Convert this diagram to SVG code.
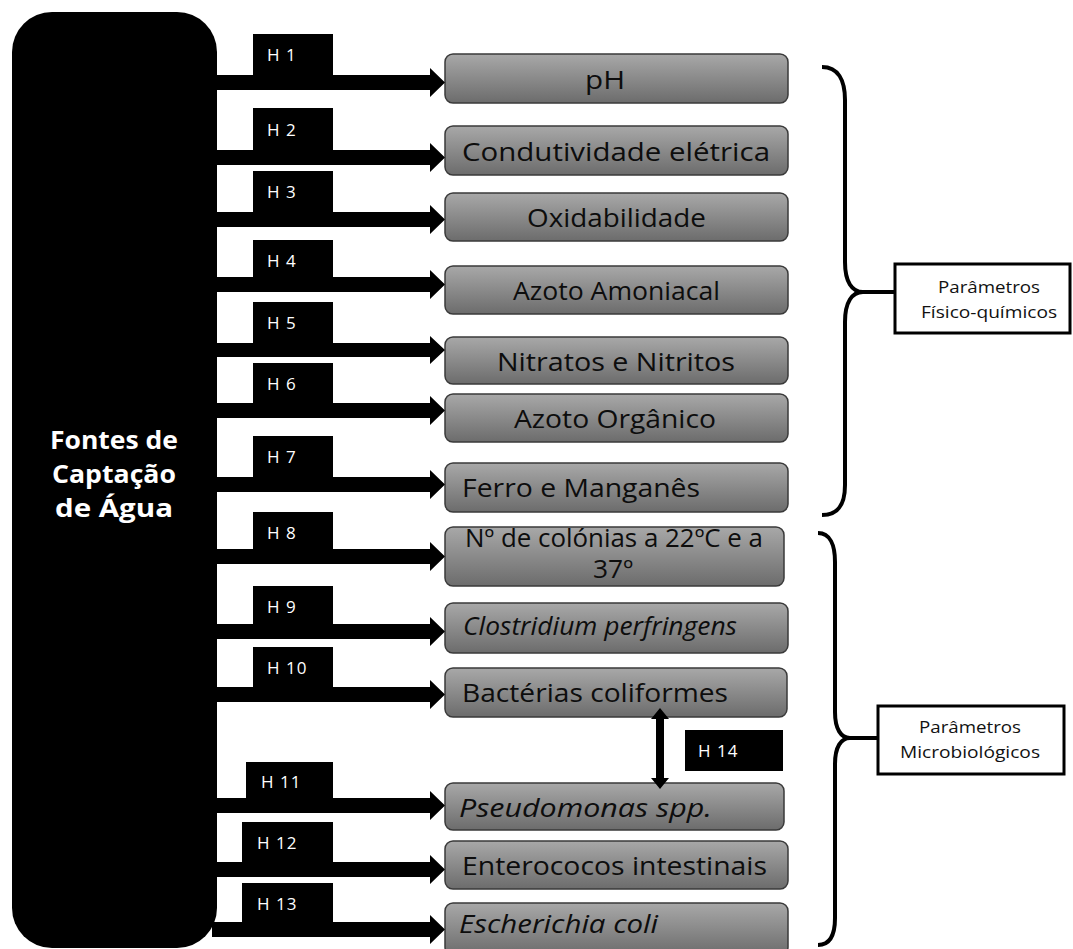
<svg xmlns="http://www.w3.org/2000/svg" width="1073" height="949" viewBox="0 0 1073 949">
<defs>
<linearGradient id="g" x1="0" y1="0" x2="0" y2="1">
<stop offset="0" stop-color="#a8a8a8"/>
<stop offset="1" stop-color="#6c6c6c"/>
</linearGradient>
</defs>
<style>
.node{fill:url(#g);stroke:#3a3a3a;stroke-width:1.5}
.nt{font-family:"Open Sans","Liberation Sans",sans-serif;font-size:25px;fill:#0d0d0d}
.it{font-style:italic}
.lab{fill:#000}
.lt{font-family:"Open Sans","Liberation Sans",sans-serif;font-size:17px;letter-spacing:1px;fill:#fff}
.arr{fill:#000}
.brace{fill:none;stroke:#000;stroke-width:4}
.pbox{fill:#fff;stroke:#000;stroke-width:3}
.pt{font-family:"Open Sans","Liberation Sans",sans-serif;font-size:16px;fill:#111;text-anchor:middle}
.src{font-family:"Open Sans","Liberation Sans",sans-serif;font-size:25px;font-weight:bold;fill:#fff;text-anchor:middle}
</style>
<rect width="1073" height="949" fill="#fff"/>

<g id="source">
<rect x="12" y="12" width="205" height="936" rx="40" fill="#000"/>
<text class="src" x="114" y="449" textLength="128" lengthAdjust="spacingAndGlyphs">Fontes de</text>
<text class="src" x="114" y="483" textLength="124" lengthAdjust="spacingAndGlyphs">Captação</text>
<text class="src" x="114" y="517" textLength="118" lengthAdjust="spacingAndGlyphs">de Água</text>
</g>

<g id="n1"><rect class="node" x="445" y="54" width="343" height="49" rx="8"/><text class="nt" x="605" y="89" text-anchor="middle" textLength="40" lengthAdjust="spacingAndGlyphs">pH</text></g>
<g id="n2"><rect class="node" x="445" y="126" width="343" height="49" rx="8"/><text class="nt" x="462" y="161" textLength="308" lengthAdjust="spacingAndGlyphs">Condutividade elétrica</text></g>
<g id="n3"><rect class="node" x="445" y="193" width="343" height="48" rx="8"/><text class="nt" x="527" y="227" textLength="179" lengthAdjust="spacingAndGlyphs">Oxidabilidade</text></g>
<g id="n4"><rect class="node" x="445" y="266" width="343" height="48" rx="8"/><text class="nt" x="513" y="300" textLength="207" lengthAdjust="spacingAndGlyphs">Azoto Amoniacal</text></g>
<g id="n5"><rect class="node" x="445" y="337" width="343" height="47" rx="8"/><text class="nt" x="497" y="371" textLength="238" lengthAdjust="spacingAndGlyphs">Nitratos e Nitritos</text></g>
<g id="n6"><rect class="node" x="445" y="394" width="343" height="48" rx="8"/><text class="nt" x="514" y="428" textLength="202" lengthAdjust="spacingAndGlyphs">Azoto Orgânico</text></g>
<g id="n7"><rect class="node" x="445" y="463" width="343" height="49" rx="8"/><text class="nt" x="462" y="497" textLength="238" lengthAdjust="spacingAndGlyphs">Ferro e Manganês</text></g>
<g id="n8"><rect class="node" x="445" y="527" width="339" height="59" rx="8"/><text class="nt" x="465" y="547" textLength="298" lengthAdjust="spacingAndGlyphs">Nº de colónias a 22ºC e a</text><text class="nt" x="593" y="578" textLength="40" lengthAdjust="spacingAndGlyphs">37º</text></g>
<g id="n9"><rect class="node" x="445" y="603" width="343" height="50" rx="8"/><text class="nt it" x="463" y="635" textLength="274" lengthAdjust="spacingAndGlyphs">Clostridium perfringens</text></g>
<g id="n10"><rect class="node" x="445" y="668" width="342" height="49" rx="8"/><text class="nt" x="462" y="702" textLength="266" lengthAdjust="spacingAndGlyphs">Bactérias coliformes</text></g>
<g id="n11"><rect class="node" x="445" y="783" width="339" height="47" rx="8"/><text class="nt it" x="459" y="817" textLength="253" lengthAdjust="spacingAndGlyphs">Pseudomonas spp.</text></g>
<g id="n12"><rect class="node" x="445" y="841" width="343" height="48" rx="8"/><text class="nt" x="462" y="875" textLength="305" lengthAdjust="spacingAndGlyphs">Enterococos intestinais</text></g>
<g id="n13"><rect class="node" x="445" y="903" width="343" height="52" rx="8"/><text class="nt it" x="459" y="933" textLength="199" lengthAdjust="spacingAndGlyphs">Escherichia coli</text></g>

<g id="connectors">
<path class="arr" d="M212,75H430V68L445,82.5L430,97V90H212Z"/>
<path class="arr" d="M212,150H430V143L445,157.5L430,172V165H212Z"/>
<path class="arr" d="M212,212H430V205L445,219.5L430,234V227H212Z"/>
<path class="arr" d="M212,277H430V270L445,284.5L430,299V292H212Z"/>
<path class="arr" d="M212,343H430V336L445,350L430,364V357H212Z"/>
<path class="arr" d="M212,403H430V396L445,410.5L430,425V418H212Z"/>
<path class="arr" d="M212,477H430V470L445,484.5L430,499V492H212Z"/>
<path class="arr" d="M212,549H430V542L445,556.5L430,571V564H212Z"/>
<path class="arr" d="M212,624H430V617L445,631.5L430,646V639H212Z"/>
<path class="arr" d="M212,687H430V680L445,694.5L430,709V702H212Z"/>
<path class="arr" d="M212,798H430V791L445,805.5L430,820V813H212Z"/>
<path class="arr" d="M212,862H430V855L445,869.5L430,884V877H212Z"/>
<path class="arr" d="M212,922H430V915L445,929.5L430,944V937H212Z"/>
<path class="arr" d="M660,708L669,719H664V778H669L660,789L651,778H656V719H651Z"/>
<g id="labels">
<rect class="lab" x="253" y="34" width="80" height="42"/><text class="lt" x="267" y="61">H 1</text>
<rect class="lab" x="253" y="108" width="80" height="43"/><text class="lt" x="267" y="136">H 2</text>
<rect class="lab" x="253" y="171" width="80" height="42"/><text class="lt" x="267" y="198">H 3</text>
<rect class="lab" x="253" y="240" width="80" height="38"/><text class="lt" x="267" y="267">H 4</text>
<rect class="lab" x="253" y="302" width="80" height="42"/><text class="lt" x="267" y="329">H 5</text>
<rect class="lab" x="253" y="363" width="80" height="41"/><text class="lt" x="267" y="390">H 6</text>
<rect class="lab" x="253" y="436" width="80" height="42"/><text class="lt" x="267" y="463">H 7</text>
<rect class="lab" x="253" y="512" width="80" height="38"/><text class="lt" x="267" y="539">H 8</text>
<rect class="lab" x="253" y="586" width="80" height="39"/><text class="lt" x="267" y="613">H 9</text>
<rect class="lab" x="253" y="647" width="80" height="41"/><text class="lt" x="267" y="674">H 10</text>
<rect class="lab" x="246" y="762" width="87" height="37"/><text class="lt" x="261" y="788">H 11</text>
<rect class="lab" x="242" y="822" width="91" height="41"/><text class="lt" x="257" y="849">H 12</text>
<rect class="lab" x="242" y="883" width="91" height="40"/><text class="lt" x="257" y="910">H 13</text>
<rect class="lab" x="685" y="730" width="98" height="41"/><text class="lt" x="698" y="757">H 14</text>
</g>
</g>

<g id="group-fq">
<path class="brace" d="M822,67C838,67 845,80 845,100L845,262C845,282 852,292 863,292C852,292 845,302 845,322L845,485C845,505 838,515 822,515"/>
<path class="brace" d="M863,292H895"/>
<rect class="pbox" x="895" y="264" width="175" height="69"/>
<text class="pt" x="989" y="293" textLength="102" lengthAdjust="spacingAndGlyphs">Parâmetros</text>
<text class="pt" x="989" y="318" textLength="136" lengthAdjust="spacingAndGlyphs">Físico-químicos</text>
</g>
<g id="group-mb">
<path class="brace" d="M818,533C830,533 835,545 835,562L835,712C835,729 841,738 850,738C841,738 835,747 835,764L835,918C835,935 830,945 818,945"/>
<path class="brace" d="M850,738H878"/>
<rect class="pbox" x="878" y="706" width="186" height="68"/>
<text class="pt" x="970" y="733" textLength="102" lengthAdjust="spacingAndGlyphs">Parâmetros</text>
<text class="pt" x="970" y="758" textLength="140" lengthAdjust="spacingAndGlyphs">Microbiológicos</text>
</g>
</svg>
